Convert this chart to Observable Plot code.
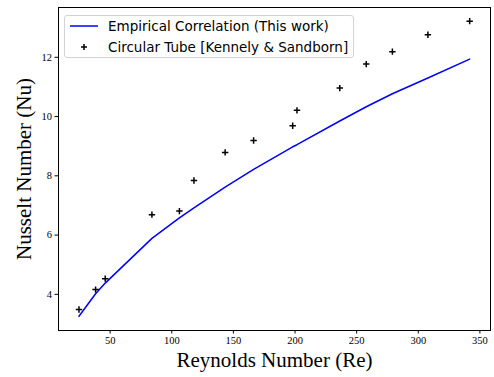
<!DOCTYPE html>
<html><head><meta charset="utf-8">
<script src="https://cdn.jsdelivr.net/npm/d3@7"></script>
<script src="https://cdn.jsdelivr.net/npm/@observablehq/plot@0.6"></script>
<style>
body{margin:0;background:#fff}
#wrap{position:relative;width:494px;height:377px}
.legend{position:absolute;left:64px;top:15px;width:288px;height:41px;border:1px solid #d3d3d3;border-radius:3px;background:rgba(255,255,255,0.8);font-family:"DejaVu Sans";font-size:13.5px;color:#000}
.legend .row{position:absolute;left:0;height:20px;line-height:20px;white-space:nowrap}
.legend .row span{position:absolute;left:43px}
.legend svg{position:absolute;left:4px;top:0}
</style></head><body><div id="wrap"></div>
<script>
const re = [24.7, 38.2, 46.0, 83.9, 106.2, 118.0, 143.3, 166.4, 198.1, 201.6, 236.3, 257.8, 279.0, 307.8, 341.7];
const nuCorrelation = [3.26, 4.02, 4.38, 5.89, 6.58, 6.92, 7.62, 8.22, 8.98, 9.05, 9.85, 10.33, 10.77, 11.30, 11.94];
const nuTube = [3.49, 4.16, 4.53, 6.69, 6.81, 7.84, 8.79, 9.19, 9.69, 10.21, 10.96, 11.77, 12.19, 12.76, 13.22];
const xTicks = [50, 100, 150, 200, 250, 300, 350];
const yTicks = [4, 6, 8, 10, 12];
const seriesNames = ["Empirical Correlation (This work)", "Circular Tube [Kennely & Sandborn]"];
const xLabel = "Reynolds Number (Re)";
const yLabel = "Nusselt Number (Nu)";

const corr = re.map((x, i) => ({re: x, nu: nuCorrelation[i]}));
const tube = re.map((x, i) => ({re: x, nu: nuTube[i]}));

const plusSymbol = {draw(ctx, size) {
  const r = Math.sqrt(size / Math.PI);
  ctx.moveTo(-r, 0); ctx.lineTo(r, 0);
  ctx.moveTo(0, -r); ctx.lineTo(0, r);
}};

const chart = Plot.plot({
  width: 494, height: 377,
  marginLeft: 58, marginRight: 4, marginTop: 7, marginBottom: 47,
  style: {fontFamily: "Liberation Serif", fontSize: "10.5px", color: "#000", background: "#fff"},
  x: {domain: [8.1, 358.6], ticks: xTicks, tickSize: 3.5, tickPadding: 3, label: null},
  y: {domain: [2.78, 13.68], ticks: yTicks, tickSize: 3.5, tickPadding: 3, label: null},
  marks: [
    Plot.frame({stroke: "#000", strokeWidth: 1}),
    Plot.line(corr, {x: "re", y: "nu", stroke: "blue", strokeWidth: 1.5}),
    Plot.dot(tube, {x: "re", y: "nu", symbol: plusSymbol, r: 3.2, stroke: "#000", strokeWidth: 1.5, fill: "none"}),
    Plot.text([xLabel], {frameAnchor: "bottom", dy: 30, fontSize: 21, fontFamily: "Liberation Serif", lineAnchor: "middle", textAnchor: "middle", fill: "#000"}),
    Plot.text([yLabel], {frameAnchor: "left", rotate: -90, dx: -34, fontSize: 21, fontFamily: "Liberation Serif", lineAnchor: "middle", textAnchor: "middle", fill: "#000"})
  ]
});
const wrap = document.getElementById("wrap");
wrap.appendChild(chart);

const legend = document.createElement("div");
legend.className = "legend";
legend.innerHTML = `
  <div class="row" style="top:0px"><svg width="32" height="20"><line x1="1" x2="29" y1="10" y2="10" stroke="blue" stroke-width="1.5"/></svg><span>${seriesNames[0]}</span></div>
  <div class="row" style="top:21px"><svg width="32" height="20"><path d="M12,10H18M15,7V13" stroke="#000" stroke-width="1.5" fill="none"/></svg><span>${seriesNames[1].replace("&","&amp;")}</span></div>`;
wrap.appendChild(legend);
</script>
</body></html>
